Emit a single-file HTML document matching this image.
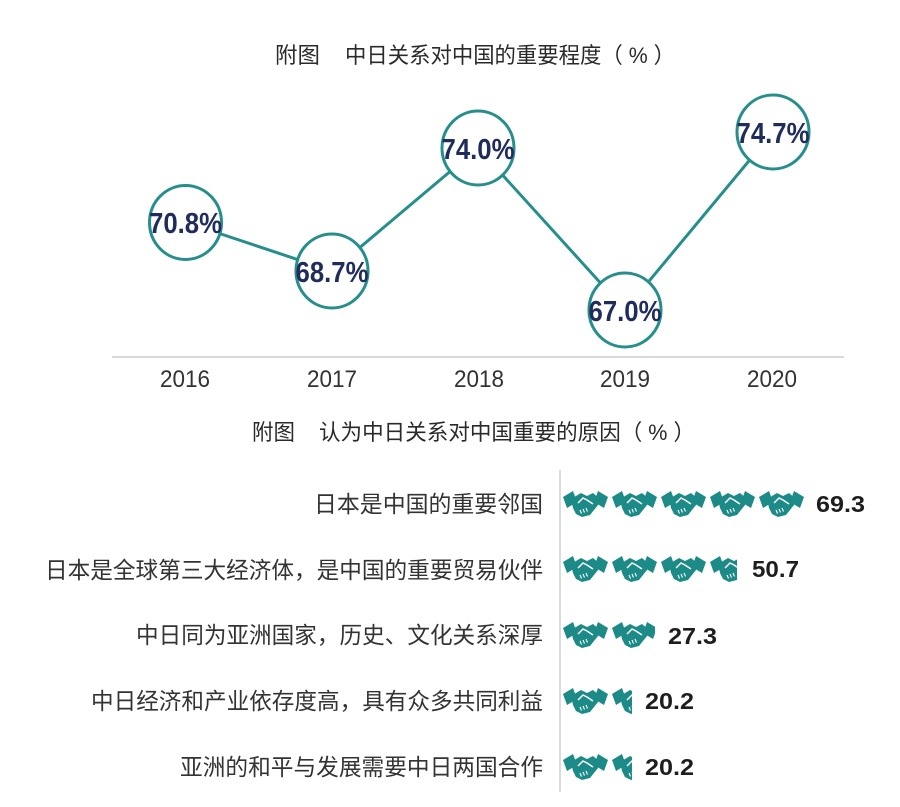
<!DOCTYPE html>
<html>
<head>
<meta charset="utf-8">
<style>
html,body{margin:0;padding:0;background:#fff;}
svg{display:block;}
text{font-family:"Liberation Sans","Noto Sans CJK SC",sans-serif;}
</style>
</head>
<body>
<svg width="900" height="807" viewBox="0 0 900 807" xmlns="http://www.w3.org/2000/svg">
<defs>
  <g id="hs">
    <polygon points="0,8 10,2 14,13 4,19" fill="#1c8a86"/>
    <polygon points="45,8 35,2 31,13 41,19" fill="#1c8a86"/>
    <polygon points="8,10 18,4 24,7 30,4 37,10 35,16 31,21 27,26 19,28 13,25 10,19" fill="#1c8a86"/>
    <path d="M15,14 L20,9 L24,11 L30,15" fill="none" stroke="#fff" stroke-width="1.5"/>
    <path d="M17,21 L18.5,24.5 M20,20 L21.5,23.5 M23,19 L24.5,22.5" fill="none" stroke="#fff" stroke-width="1.1"/>
  </g>
  <clipPath id="c62"><rect x="0" y="0" width="27" height="30"/></clipPath>
  <clipPath id="c44"><rect x="0" y="0" width="20" height="30"/></clipPath>
  <clipPath id="c95"><rect x="0" y="0" width="43" height="30"/></clipPath>
</defs>

<!-- Title 1 -->
<text x="275" y="63" font-size="22" fill="#2a2a2a" textLength="45" lengthAdjust="spacingAndGlyphs">附图</text>
<text x="345" y="63" font-size="22" fill="#2a2a2a" textLength="330" lengthAdjust="spacingAndGlyphs">中日关系对中国的重要程度（ % ）</text>

<!-- axis -->
<line x1="112" y1="357" x2="844" y2="357" stroke="#d9d9d9" stroke-width="2"/>

<!-- connecting line -->
<polyline points="185,222 332,271 478,148 625,310 773,132" fill="none" stroke="#268f8b" stroke-width="3"/>

<!-- circles -->
<g fill="#fff" stroke="#268f8b" stroke-width="3">
  <ellipse cx="185.5" cy="222.5" rx="36" ry="37"/>
  <ellipse cx="332" cy="271" rx="36" ry="37"/>
  <ellipse cx="478" cy="148" rx="36" ry="37"/>
  <ellipse cx="625" cy="310" rx="36" ry="37"/>
  <ellipse cx="773" cy="132" rx="36" ry="37"/>
</g>
<g font-size="29" font-weight="bold" fill="#1f2c5c" text-anchor="middle">
  <text x="185.5" y="233" textLength="73" lengthAdjust="spacingAndGlyphs">70.8%</text>
  <text x="332" y="282" textLength="73" lengthAdjust="spacingAndGlyphs">68.7%</text>
  <text x="478" y="159" textLength="73" lengthAdjust="spacingAndGlyphs">74.0%</text>
  <text x="625" y="321" textLength="73" lengthAdjust="spacingAndGlyphs">67.0%</text>
  <text x="773" y="143" textLength="73" lengthAdjust="spacingAndGlyphs">74.7%</text>
</g>

<!-- years -->
<g font-size="24" fill="#333" text-anchor="middle">
  <text x="185" y="387" textLength="50" lengthAdjust="spacingAndGlyphs">2016</text>
  <text x="332" y="387" textLength="50" lengthAdjust="spacingAndGlyphs">2017</text>
  <text x="479" y="387" textLength="50" lengthAdjust="spacingAndGlyphs">2018</text>
  <text x="625" y="387" textLength="50" lengthAdjust="spacingAndGlyphs">2019</text>
  <text x="772" y="387" textLength="50" lengthAdjust="spacingAndGlyphs">2020</text>
</g>

<!-- Title 2 -->
<text x="252" y="440" font-size="22" fill="#2a2a2a" textLength="43" lengthAdjust="spacingAndGlyphs">附图</text>
<text x="319" y="440" font-size="22" fill="#2a2a2a" textLength="376" lengthAdjust="spacingAndGlyphs">认为中日关系对中国重要的原因（ % ）</text>

<!-- vertical line -->
<line x1="560" y1="470" x2="560" y2="792" stroke="#cfcfcf" stroke-width="1.5"/>

<!-- labels -->
<g font-size="23" fill="#333" text-anchor="end">
  <text x="543" y="512" textLength="229" lengthAdjust="spacingAndGlyphs">日本是中国的重要邻国</text>
  <text x="543" y="578" textLength="498" lengthAdjust="spacingAndGlyphs">日本是全球第三大经济体，是中国的重要贸易伙伴</text>
  <text x="543" y="643" textLength="407" lengthAdjust="spacingAndGlyphs">中日同为亚洲国家，历史、文化关系深厚</text>
  <text x="543" y="709" textLength="452" lengthAdjust="spacingAndGlyphs">中日经济和产业依存度高，具有众多共同利益</text>
  <text x="543" y="775" textLength="363" lengthAdjust="spacingAndGlyphs">亚洲的和平与发展需要中日两国合作</text>
</g>

<!-- icons row 1 -->
<use href="#hs" x="563" y="489"/>
<use href="#hs" x="612" y="489"/>
<use href="#hs" x="661" y="489"/>
<use href="#hs" x="710" y="489"/>
<use href="#hs" x="759" y="489"/>
<!-- row 2 -->
<use href="#hs" x="563" y="554"/>
<use href="#hs" x="612" y="554"/>
<use href="#hs" x="661" y="554"/>
<g transform="translate(710,554)"><use href="#hs" clip-path="url(#c62)"/></g>
<!-- row 3 -->
<use href="#hs" x="563" y="620"/>
<g transform="translate(612,620)"><use href="#hs" clip-path="url(#c95)"/></g>
<!-- row 4 -->
<use href="#hs" x="563" y="686"/>
<g transform="translate(612,686)"><use href="#hs" clip-path="url(#c44)"/></g>
<!-- row 5 -->
<use href="#hs" x="563" y="752"/>
<g transform="translate(612,752)"><use href="#hs" clip-path="url(#c44)"/></g>

<!-- values -->
<g font-size="23" font-weight="bold" fill="#1e1e1e">
  <text x="816" y="512" textLength="49" lengthAdjust="spacingAndGlyphs">69.3</text>
  <text x="752" y="577" textLength="47" lengthAdjust="spacingAndGlyphs">50.7</text>
  <text x="668" y="644" textLength="49" lengthAdjust="spacingAndGlyphs">27.3</text>
  <text x="645" y="709" textLength="49" lengthAdjust="spacingAndGlyphs">20.2</text>
  <text x="645" y="775" textLength="49" lengthAdjust="spacingAndGlyphs">20.2</text>
</g>
</svg>
</body>
</html>
